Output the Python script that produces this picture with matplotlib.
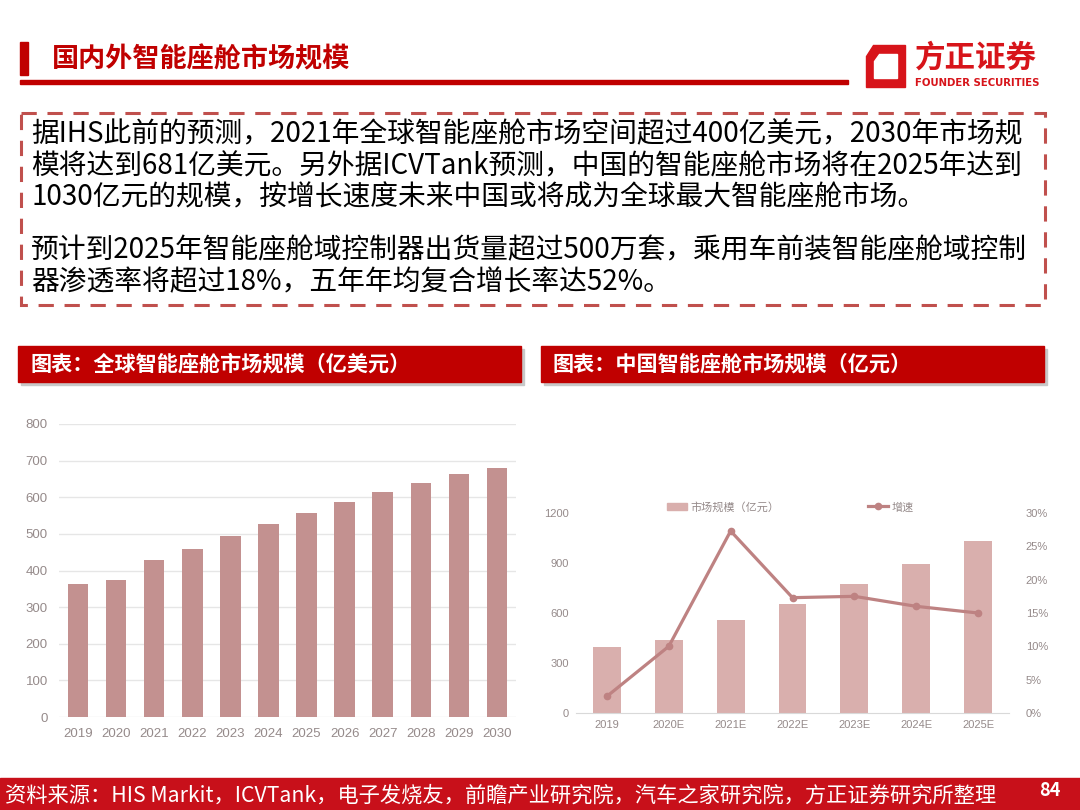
import numpy as np
import matplotlib.pyplot as plt
from matplotlib.patches import Rectangle, Polygon
from matplotlib.lines import Line2D

plt.rcParams['font.family'] = ['Noto Sans CJK SC', 'DejaVu Sans']

# global market (100M USD)
years_global = ['2019', '2020', '2021', '2022', '2023', '2024', '2025', '2026', '2027', '2028', '2029', '2030']
size_global = [363, 375, 428, 460, 493, 526, 558, 586, 613, 640, 664, 681]

# china market (100M CNY) + growth
years_cn = ['2019', '2020E', '2021E', '2022E', '2023E', '2024E', '2025E']
size_cn = [398, 440, 560, 656, 772, 894, 1030]
growth_cn = [2.5, 10.0, 27.3, 17.3, 17.5, 16.0, 15.0]

title = '国内外智能座舱市场规模'
box_lines = [
    '据IHS此前的预测，2021年全球智能座舱市场空间超过400亿美元，2030年市场规',
    '模将达到681亿美元。另外据ICVTank预测，中国的智能座舱市场将在2025年达到',
    '1030亿元的规模，按增长速度未来中国或将成为全球最大智能座舱市场。',
    '预计到2025年智能座舱域控制器出货量超过500万套，乘用车前装智能座舱域控制',
    '器渗透率将超过18%，五年年均复合增长率达52%。',
]
chart1_title = '图表：全球智能座舱市场规模（亿美元）'
chart2_title = '图表：中国智能座舱市场规模（亿元）'
source = '资料来源：HIS Markit，ICVTank，电子发烧友，前瞻产业研究院，汽车之家研究院，方正证券研究所整理'

RED = '#c00000'
W, H = 1080, 810
fig = plt.figure(figsize=(10.8, 8.1), dpi=100)

# overlay in pixel coords for the slide decorations
bg = fig.add_axes([0, 0, 1, 1])
bg.set_xlim(0, W)
bg.set_ylim(H, 0)
bg.axis('off')

# header
bg.add_patch(Rectangle((20, 42), 8, 33, color=RED))
bg.text(52, 59, title, fontsize=19.5, fontweight='bold', color=RED, va='center', ha='left')
bg.add_patch(Rectangle((20, 80), 828, 4, color=RED))

# logo
bg.add_patch(Polygon([(873, 45), (905, 45), (905, 87), (866, 87), (866, 56)], color='#d7141a'))
bg.add_patch(Polygon([(879, 54), (897, 54), (897, 78), (874, 78), (874, 61)], color='white'))
bg.text(976, 58, '方正证券', fontsize=22, fontweight='bold', color='#d7141a', ha='center', va='center')
bg.text(977, 83, 'FOUNDER SECURITIES', fontsize=7.3, fontweight='bold', color='#d7141a',
        ha='center', va='center', family=['DejaVu Sans'])

# dashed text box
bg.add_patch(Rectangle((21, 113), 1024, 192, fill=False, edgecolor='#c0504d', linewidth=2.2,
                       linestyle=(0, (5, 3.5))))
for yy, line in zip([134, 166, 197, 250, 282], box_lines):
    bg.text(31, yy, line, fontsize=20, color='black', ha='left', va='center')

# chart title bars
for x0, x1, txt in [(18, 521, chart1_title), (541, 1044, chart2_title)]:
    bg.add_patch(Rectangle((x0 + 3, 349), x1 - x0, 36, color='#c8c8c8'))
    bg.add_patch(Rectangle((x0, 346), x1 - x0, 36, color=RED))
    bg.text(x0 + 12, 364, txt, fontsize=15.2, fontweight='bold', color='white', ha='left', va='center')

# footer
bg.add_patch(Rectangle((0, 778), W, 32, color='#c8101a'))
bg.text(5, 796, source, fontsize=15.3, color='white', ha='left', va='center')
bg.text(1050, 791, '84', fontsize=13, fontweight='bold', color='white', ha='center', va='center')

# left chart
ax1 = fig.add_axes([59 / W, (H - 717) / H, (516 - 59) / W, (717 - 424) / H])
x1 = np.arange(len(years_global))
ax1.bar(x1, size_global, width=0.54, color='#c39190', zorder=2)
ax1.set_xlim(-0.5, len(years_global) - 0.5)
ax1.set_ylim(0, 800)
ax1.set_yticks(range(0, 801, 100))
ax1.set_xticks(x1)
ax1.set_xticklabels(years_global)
ax1.grid(axis='y', color='#e6e6e6', linewidth=1, zorder=0)
for s in ax1.spines.values():
    s.set_visible(False)
ax1.tick_params(length=0, labelsize=9.5, labelcolor='#958a8a', pad=8)
ax1.tick_params(axis='x', pad=8)
for lab in ax1.get_xticklabels() + ax1.get_yticklabels():
    lab.set_family(['Liberation Sans', 'DejaVu Sans'])
ax1.patch.set_alpha(0)

# right chart
ax2 = fig.add_axes([576 / W, (H - 713) / H, (1009 - 576) / W, 200 / H])
x2 = np.arange(len(years_cn))
ax2.bar(x2, size_cn, width=0.45, color='#d9afad', zorder=2, label='市场规模（亿元）')
ax2.set_xlim(-0.5, len(years_cn) - 0.5)
ax2.set_ylim(0, 1200)
ax2.set_yticks(range(0, 1201, 300))
ax2.set_xticks(x2)
ax2.set_xticklabels(years_cn)
for s in ['top', 'right', 'left']:
    ax2.spines[s].set_visible(False)
ax2.spines['bottom'].set_color('#d9d9d9')
ax2.tick_params(length=0, labelsize=8, labelcolor='#958a8a', pad=5)
ax2.patch.set_alpha(0)

ax3 = ax2.twinx()
ax3.plot(x2, growth_cn, color='#be8282', linewidth=2.3, marker='o', markersize=4.5, zorder=3)
ax3.set_ylim(0, 30)
ax3.set_yticks(range(0, 31, 5))
ax3.set_yticklabels([f'{v}%' for v in range(0, 31, 5)])
for s in ax3.spines.values():
    s.set_visible(False)
ax3.tick_params(length=0, labelsize=8, labelcolor='#958a8a', pad=12)

for a in (ax2, ax3):
    for lab in a.get_xticklabels() + a.get_yticklabels():
        lab.set_family(['Liberation Sans Narrow', 'Liberation Sans', 'DejaVu Sans'])

handles = [Rectangle((0, 0), 1, 1, color='#d9afad'),
           Line2D([], [], color='#be8282', linewidth=2.3, marker='o', markersize=4.5)]
leg = ax2.legend(handles, ['市场规模（亿元）', '增速'], loc='center', bbox_to_anchor=(0.495, 1.03),
                 ncol=2, frameon=False, fontsize=8, labelcolor='#958a8a', handlelength=1.8,
                 columnspacing=8, handletextpad=0.3)

fig.savefig('out.png', dpi=100)
